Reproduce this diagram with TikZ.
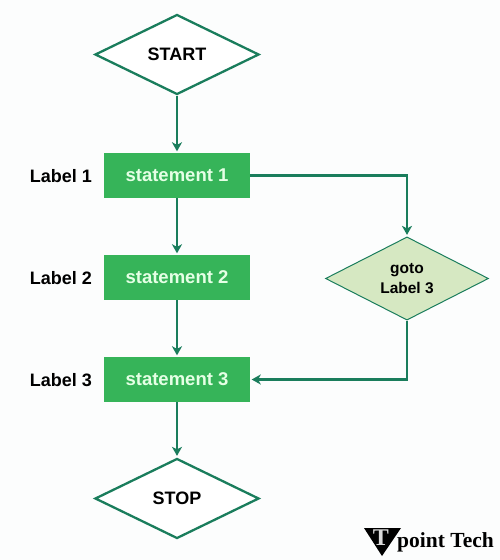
\documentclass[tikz,border=0pt]{standalone}
\usepackage{fontspec}
\setmainfont{Liberation Sans}
\newfontfamily\logofont{Liberation Serif}
\usetikzlibrary{shapes.geometric,arrows.meta}
\definecolor{linegreen}{HTML}{1A7D5C}
\definecolor{boxgreen}{HTML}{36B459}
\definecolor{pale}{HTML}{D6E8C2}
\definecolor{paper}{HTML}{FCFDFD}
\tikzset{
  x=1pt,y=-1pt,
  flow/.style={draw=linegreen,line width=2.3pt,shorten >=1.5pt,-{Stealth[length=9pt,width=10pt,inset=2.5pt]}},
  terminal/.style={diamond,draw=linegreen,line width=2.3pt,fill=white,minimum width=164pt,minimum height=80pt,inner sep=0pt,font=\bfseries\fontsize{18}{20}\selectfont},
  stmt/.style={rectangle,fill=boxgreen,minimum width=146pt,minimum height=45pt,inner sep=0pt,text=white!90!green,font=\bfseries\fontsize{18.5}{20}\selectfont},
  gotobox/.style={diamond,draw=linegreen,line width=1pt,fill=pale,minimum width=163pt,minimum height=78pt,inner sep=0pt,align=center,font=\bfseries\fontsize{15.5}{19.5}\selectfont},
  lab/.style={anchor=east,inner sep=0pt,font=\bfseries\fontsize{18}{20}\selectfont},
  logotext/.style={inner sep=0pt,font=\logofont\bfseries\fontsize{21.5}{24}\selectfont}
}
\begin{document}
\begin{tikzpicture}
\useasboundingbox (0,0) rectangle (500,560);
\fill[paper] (0,0) rectangle (500,560);
\node[terminal] (start) at (177,54.5) {START};
\node[stmt] (s1) at (177,175.5) {statement 1};
\node[stmt] (s2) at (177,277.5) {statement 2};
\node[stmt] (s3) at (177,379.5) {statement 3};
\node[terminal] (stop) at (177,498.5) {STOP};
\node[gotobox] (goto) at (407,278.5) {goto\\Label 3};
\node[lab] (l1) at (92,176.5) {Label 1};
\node[lab] (l2) at (92,278) {Label 2};
\node[lab] (l3) at (92,380.5) {Label 3};
\draw[flow] (start) -- (s1);
\draw[flow] (s1) -- (s2);
\draw[flow] (s2) -- (s3);
\draw[flow] (s3) -- (stop);
\draw[flow] (s1.east) -| (goto.north);
\draw[flow] (goto.south) |- (s3.east);
\fill[black] (364,528) -- (401,528) -- (382,556) -- cycle;
\node[inner sep=0pt,text=white!85!black,font=\logofont\bfseries\fontsize{24}{26}\selectfont] (logoT) at (381,538) {T};
\node[logotext,anchor=base west] (logo) at (397,547.5) {point Tech};
\end{tikzpicture}
\end{document}
